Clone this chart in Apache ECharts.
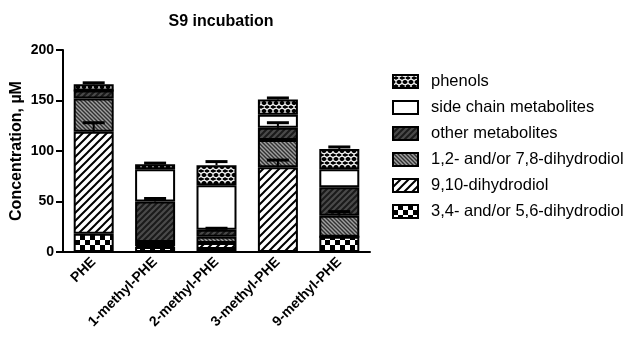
<!DOCTYPE html>
<html>
<head>
<meta charset="utf-8">
<script src="https://cdn.jsdelivr.net/npm/echarts@6/dist/echarts.min.js"></script>
<style>
html,body{margin:0;padding:0;background:#fff;}
#chart{width:633px;height:340px;}
</style>
</head>
<body>
<div id="chart"></div>
<script>
// ---- data ----
const categories = ['PHE', '1-methyl-PHE', '2-methyl-PHE', '3-methyl-PHE', '9-methyl-PHE'];
const diol34 = [18, 5, 3, 0, 15];
const diol910 = [101, 1, 6, 84, 0];
const diol12 = [33, 4, 6, 27, 21];
const otherMet = [8, 40, 7, 12, 28];
const sideChain = [0, 32, 44, 13, 18];
const phenols = [6, 5, 20, 15, 20];
const seriesNames = ['3,4- and/or 5,6-dihydrodiol', '9,10-dihydrodiol', '1,2- and/or 7,8-dihydrodiol', 'other metabolites', 'side chain metabolites', 'phenols'];
// error bars: category index, stack level (0..5), error size
const errorCat = [0, 0, 1, 1, 2, 2, 3, 3, 3, 4, 4];
const errorLevel = [1, 5, 3, 5, 3, 5, 1, 3, 5, 2, 5];
const errorSize = [9, 1.5, 3, 1, 1.5, 3.5, 7, 5, 1.5, 4, 2];

// ---- patterns ----
function pat(w, h, draw) {
  const c = document.createElement('canvas');
  c.width = w; c.height = h;
  const ctx = c.getContext('2d');
  draw(ctx, w, h);
  return { image: c, repeat: 'repeat' };
}
const pChecker = pat(10, 10, (g, w, h) => {
  g.fillStyle = '#000'; g.fillRect(0, 0, w, h);
  g.fillStyle = '#fff'; g.fillRect(0, 0, 5, 5); g.fillRect(5, 5, 5, 5);
});
const pDiag = pat(8, 8, (g, w, h) => {
  g.fillStyle = '#fff'; g.fillRect(0, 0, w, h);
  g.strokeStyle = '#000'; g.lineWidth = 2;
  g.beginPath();
  g.moveTo(-1, 9); g.lineTo(9, -1);
  g.moveTo(-1, 1); g.lineTo(1, -1);
  g.moveTo(7, 9); g.lineTo(9, 7);
  g.stroke();
});
const pGrey = pat(4, 4, (g, w, h) => {
  g.fillStyle = '#a0a0a0'; g.fillRect(0, 0, w, h);
  g.strokeStyle = '#303030'; g.lineWidth = 1.4;
  g.beginPath();
  g.moveTo(-1, -1); g.lineTo(5, 5);
  g.moveTo(3, -1); g.lineTo(5, 1);
  g.moveTo(-1, 3); g.lineTo(1, 5);
  g.stroke();
});
const pDark = pat(6, 6, (g, w, h) => {
  g.fillStyle = '#4a4a4a'; g.fillRect(0, 0, w, h);
  g.strokeStyle = '#1a1a1a'; g.lineWidth = 2;
  g.beginPath();
  g.moveTo(-1, 7); g.lineTo(7, -1);
  g.moveTo(-1, 1); g.lineTo(1, -1);
  g.moveTo(5, 7); g.lineTo(7, 5);
  g.stroke();
});
const pWhite = '#ffffff';
const pHex = pat(12, 8, (g, w, h) => {
  g.fillStyle = '#000'; g.fillRect(0, 0, w, h);
  g.strokeStyle = '#fff'; g.lineWidth = 1.3;
  g.beginPath();
  g.moveTo(0, 2); g.lineTo(3, 0.5); g.lineTo(6, 2); g.lineTo(9, 0.5); g.lineTo(12, 2);
  g.moveTo(0, 2); g.lineTo(0, 4);
  g.moveTo(6, 2); g.lineTo(6, 4);
  g.moveTo(0, 4); g.lineTo(3, 5.5); g.lineTo(6, 4); g.lineTo(9, 5.5); g.lineTo(12, 4);
  g.moveTo(3, 5.5); g.lineTo(3, 8);
  g.moveTo(9, 5.5); g.lineTo(9, 8);
  g.stroke();
});
const patterns = [pChecker, pDiag, pGrey, pDark, pWhite, pHex];
const values = [diol34, diol910, diol12, otherMet, sideChain, phenols];

const barSeries = seriesNames.map((name, i) => ({
  name: name,
  type: 'bar',
  stack: 'total',
  barWidth: 40,
  data: values[i],
  itemStyle: { color: patterns[i], borderColor: '#000', borderWidth: 2 },
  emphasis: { disabled: true },
  animation: false
}));

// error bar data
const errData = errorCat.map((c, k) => {
  let base = 0;
  for (let l = 0; l <= errorLevel[k]; l++) base += values[l][c];
  return [c, base, base + errorSize[k]];
});

const errSeries = {
  type: 'custom',
  name: 'err',
  data: errData,
  z: 5,
  animation: false,
  renderItem: function (params, api) {
    const x = api.value(0);
    const p0 = api.coord([x, api.value(1)]);
    const p1 = api.coord([x, api.value(2)]);
    const hw = 11;
    return {
      type: 'group',
      children: [
        { type: 'line', shape: { x1: p0[0], y1: p0[1], x2: p1[0], y2: p1[1] }, style: { stroke: '#000', lineWidth: 2 } },
        { type: 'line', shape: { x1: p1[0] - hw, y1: p1[1], x2: p1[0] + hw, y2: p1[1] }, style: { stroke: '#000', lineWidth: 3 } }
      ]
    };
  }
};

const FONT = 'Liberation Sans, Arial, sans-serif';
const chart = echarts.init(document.getElementById('chart'), null, { renderer: 'canvas' });
chart.setOption({
  backgroundColor: '#fff',
  animation: false,
  title: {
    text: 'S9 incubation',
    left: 216,
    textAlign: 'center',
    top: 9,
    textStyle: { fontFamily: FONT, fontSize: 16, fontWeight: 'bold', color: '#000' }
  },
  legend: {
    orient: 'vertical',
    left: 392,
    top: 73,
    padding: 0,
    itemWidth: 25,
    itemHeight: 13,
    itemGap: 9,
    icon: 'rect',
    data: seriesNames.slice().reverse(),
    textStyle: { fontFamily: FONT, fontSize: 16.5, color: '#000', lineHeight: 17, padding: [0, 0, 0, 8] },
    selectedMode: false
  },
  grid: { left: 63, right: 263, top: 50, bottom: 88, containLabel: false },
  xAxis: {
    type: 'category',
    data: categories,
    axisLine: { lineStyle: { color: '#000', width: 2 } },
    axisTick: { alignWithLabel: true, length: 7, lineStyle: { color: '#000', width: 2 } },
    axisLabel: { rotate: 45, fontFamily: FONT, fontSize: 14, fontWeight: 'bold', color: '#000', margin: 8 }
  },
  yAxis: {
    type: 'value',
    min: 0, max: 200, interval: 50,
    name: 'Concentration, µM',
    nameLocation: 'middle',
    nameRotate: 90,
    nameGap: 38,
    nameTextStyle: { fontFamily: FONT, fontSize: 16, fontWeight: 'bold', color: '#000' },
    axisLine: { show: true, lineStyle: { color: '#000', width: 2 } },
    axisTick: { show: true, length: 7, lineStyle: { color: '#000', width: 2 } },
    axisLabel: { fontFamily: FONT, fontSize: 14, fontWeight: 'bold', color: '#000', margin: 9 },
    splitLine: { show: false }
  },
  series: barSeries.concat([errSeries])
});
</script>
</body>
</html>
